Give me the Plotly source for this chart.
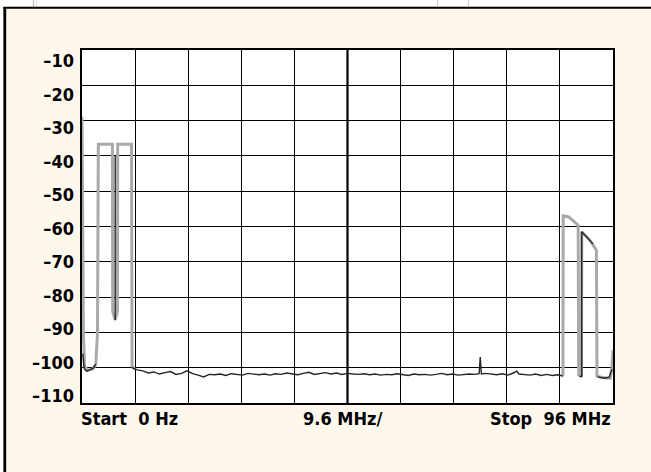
import plotly.graph_objects as go

# ---------------- data ----------------
# gray (max-hold style) trace: left signal block and right signal block
gray_left_f = [0.0, 0.25, 0.45, 1.0, 2.0, 2.5, 2.8, 2.95, 5.5, 5.55, 6.0, 6.4, 6.45, 8.95, 9.05, 9.6]
gray_left_db = [-29, -90, -99.5, -100.8, -100.3, -99, -90, -36.7, -36.7, -84, -86.5, -84, -36.7, -36.7, -99.5, -100.5]

gray_right_f = [86.6, 86.95, 87.0, 88.0, 89.7, 89.8, 90.3, 90.35, 91.8, 93.0, 93.1, 94.0, 95.5, 95.8, 96.0]
gray_right_db = [-102.5, -102.0, -57.0, -57.3, -59.6, -102.0, -102.0, -61.5, -63.8, -66.7, -102.3, -102.8, -103.0, -100.0, -95.0]

# dark trace: noise floor
floor_f = [9.0, 9.6, 10, 11, 12, 13, 14, 15, 16, 17, 18, 19, 20, 21, 22, 23, 24, 25, 26, 27, 28,
           29, 30, 31, 32, 33, 34, 35, 36, 37, 38, 39, 40, 41, 42, 43, 44, 45, 46, 47, 48, 49,
           50, 51, 52, 53, 54, 55, 56, 57, 58, 59, 60, 61, 62, 63, 64, 65, 66, 67, 68, 69, 70,
           71, 71.8, 72.0, 72.2, 73, 74, 75, 76, 77, 78, 78.6, 79, 80, 81, 82, 83, 84, 85, 86, 86.9]
floor_db = [-100.0, -100.4, -100.6, -100.9, -101.5, -101.2, -101.8, -101.4, -101.1, -101.9, -101.6,
            -100.9, -101.7, -102.1, -102.6, -101.9, -102.0, -101.8, -102.2, -101.7, -101.9,
            -102.1, -101.6, -101.9, -102.0, -101.8, -102.1, -101.7, -101.9, -101.5, -101.8,
            -102.0, -101.6, -101.3, -101.9, -101.7, -101.4, -101.8, -101.5, -101.9, -101.6,
            -101.8, -101.9, -101.7, -102.0, -101.8, -102.1, -101.9, -102.0, -101.7, -101.9,
            -102.2, -101.8, -102.0, -101.9, -102.1, -101.9, -101.6, -102.0, -101.8, -102.1,
            -101.9, -101.8, -101.9, -101.7, -97.0, -101.8, -101.6, -101.9, -102.0, -101.7,
            -102.1, -101.5, -101.0, -101.8, -101.9, -102.1, -101.8, -102.2, -101.9, -102.2,
            -102.0, -102.3]

dark_left_f = [0.15, 0.4, 0.8, 1.4, 2.0, 2.5]
dark_left_db = [-96, -100.2, -101.0, -100.7, -100.2, -99.0]

dip_f = [6.0, 6.0]
dip_db = [-40, -86.5]

dark_right_f = [89.9, 90.35, 90.35, 91.5, 92.4]
dark_right_db = [-102.5, -102.5, -61.5, -63.3, -65.0]

dark_tail_f = [93.2, 94.5, 95.3, 95.8]
dark_tail_db = [-102.6, -103.0, -102.7, -100.5]

y_ticks = [-10, -20, -30, -40, -50, -60, -70, -80, -90, -100, -110]
y_tick_text = ["–10", "–20", "–30", "–40", "–50", "–60", "–70", "–80", "–90", "–100", "–110"]

x_labels = ["Start  0 Hz", "9.6 MHz/", "Stop  96 MHz"]

# ---------------- figure ----------------
W, H = 651, 472
ML, MR, MT, MB = 82, 38, 50, 69
PW, PH = W - ML - MR, H - MT - MB

def px(x):
    return (x - ML) / PW

def py(y):
    return (H - MB - y) / PH

FONT = "DejaVu Sans Condensed"
GRAY = "#a9a9a9"
DARK = "#262626"

fig = go.Figure()

def join(*segs):
    xs, ys = [], []
    for fx, fy in segs:
        if xs:
            xs.append(None); ys.append(None)
        xs.extend(fx); ys.extend(fy)
    return xs, ys

gx, gy = join((gray_left_f, gray_left_db), (gray_right_f, gray_right_db))
fig.add_trace(go.Scatter(x=gx, y=gy, mode="lines", line=dict(color=GRAY, width=3),
                         hoverinfo="skip", showlegend=False))

dx, dy = join((dark_left_f, dark_left_db), (dip_f, dip_db), (floor_f, floor_db),
              (dark_right_f, dark_right_db), (dark_tail_f, dark_tail_db))
fig.add_trace(go.Scatter(x=dx, y=dy, mode="lines", line=dict(color=DARK, width=1.4),
                         hoverinfo="skip", showlegend=False))

shapes = []
# thicker centre graticule line
shapes.append(dict(type="line", xref="x", yref="paper", x0=48, x1=48, y0=0, y1=1,
                   line=dict(color="black", width=2.2), layer="below"))
# top white strip & border frame
shapes.append(dict(type="rect", xref="paper", yref="paper", x0=px(0), x1=px(W), y0=py(7.5), y1=py(0),
                   fillcolor="white", line=dict(width=0), layer="below"))
shapes.append(dict(type="rect", xref="paper", yref="paper", x0=px(0), x1=px(3.3), y0=py(H), y1=py(0),
                   fillcolor="white", line=dict(width=0), layer="below"))
for gxp, col in [(33.5, "#b8b8b8"), (36.5, "#dddddd"), (437.5, "#d0d0d0"), (468.5, "#d0d0d0")]:
    shapes.append(dict(type="line", xref="paper", yref="paper", x0=px(gxp), x1=px(gxp), y0=py(7), y1=py(0),
                       line=dict(color=col, width=1.2)))
shapes.append(dict(type="line", xref="paper", yref="paper", x0=px(3.3), x1=px(W), y0=py(7.8), y1=py(7.8),
                   line=dict(color="black", width=2)))
shapes.append(dict(type="line", xref="paper", yref="paper", x0=px(4.8), x1=px(4.8), y0=py(H), y1=py(7),
                   line=dict(color="black", width=2.8)))

annotations = [
    dict(text=x_labels[0], xref="paper", yref="paper", x=0, y=0, xanchor="left", yanchor="top",
         xshift=-3, yshift=-3, showarrow=False, font=dict(family=FONT, size=18, color="black", weight="bold")),
    dict(text=x_labels[1], xref="paper", yref="paper", x=0.5, y=0, xanchor="center", yanchor="top",
         xshift=-5, yshift=-3, showarrow=False, font=dict(family=FONT, size=18, color="black", weight="bold")),
    dict(text=x_labels[2], xref="paper", yref="paper", x=1, y=0, xanchor="right", yanchor="top",
         xshift=0, yshift=-3, showarrow=False, font=dict(family=FONT, size=18, color="black", weight="bold")),
]

fig.update_layout(
    width=W, height=H,
    margin=dict(l=ML, r=MR, t=MT, b=MB, pad=0),
    paper_bgcolor="#fef8ec",
    plot_bgcolor="white",
    shapes=shapes,
    annotations=annotations,
    xaxis=dict(range=[0, 96], dtick=9.6, tick0=0, showgrid=True, gridcolor="black", gridwidth=1.3,
               showticklabels=False, ticks="", zeroline=False,
               showline=True, linecolor="black", linewidth=2, mirror=True),
    yaxis=dict(range=[-110, -10], dtick=10, tick0=-10, showgrid=True, gridcolor="black", gridwidth=1.3,
               showticklabels=False, ticks="", zeroline=False,
               showline=True, linecolor="black", linewidth=2, mirror=True),
    yaxis2=dict(overlaying="y", side="left", range=[-112.09, -6.81], tickmode="array",
                tickvals=y_ticks, ticktext=y_tick_text, showgrid=False, zeroline=False,
                showline=False, ticks="", ticklabelstandoff=7,
                tickfont=dict(family=FONT, size=18, color="black", weight="bold")),
)

fig.add_trace(go.Scatter(x=[None], y=[None], yaxis="y2", mode="lines", hoverinfo="skip", showlegend=False))

fig.write_html("out.html", config={"displayModeBar": False},
               post_script="document.body.style.margin='0';document.body.style.overflow='hidden';")
